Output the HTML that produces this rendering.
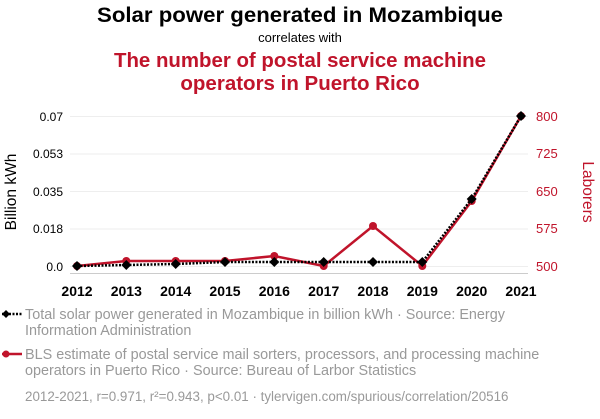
<!DOCTYPE html>
<html><head><meta charset="utf-8"><style>
body{margin:0;background:#fff;width:600px;height:414px;overflow:hidden;font-family:"Liberation Sans",sans-serif}
</style></head><body>
<svg width="600" height="414" xmlns="http://www.w3.org/2000/svg" font-family="Liberation Sans, sans-serif">
<text x="300" y="22" text-anchor="middle" font-size="21.5" font-weight="bold" fill="#000" textLength="406" lengthAdjust="spacingAndGlyphs">Solar power generated in Mozambique</text>
<text x="300" y="42" text-anchor="middle" font-size="13" fill="#000">correlates with</text>
<text x="300" y="67" text-anchor="middle" font-size="20.5" font-weight="bold" fill="#c0142b" textLength="372" lengthAdjust="spacingAndGlyphs">The number of postal service machine</text>
<text x="300" y="90" text-anchor="middle" font-size="20.5" font-weight="bold" fill="#c0142b">operators in Puerto Rico</text>
<g stroke="#eee" stroke-width="1">
<line x1="70" x2="528" y1="116.5" y2="116.5"/><line x1="70" x2="528" y1="154" y2="154"/><line x1="70" x2="528" y1="191.5" y2="191.5"/><line x1="70" x2="528" y1="229" y2="229"/><line x1="70" x2="528" y1="266.5" y2="266.5"/>
</g>
<line x1="70" x2="528" y1="273.5" y2="273.5" stroke="#ccc"/>
<g font-size="12" fill="#000" text-anchor="end">
<text x="63" y="121">0.07</text><text x="63" y="158">0.053</text><text x="63" y="196">0.035</text><text x="63" y="233">0.018</text><text x="63" y="271">0.0</text>
</g>
<g font-size="13" fill="#c0142b" text-anchor="start">
<text x="536" y="121">800</text><text x="536" y="158">725</text><text x="536" y="196">650</text><text x="536" y="233">575</text><text x="536" y="271">500</text>
</g>
<text transform="translate(16,192) rotate(-90)" text-anchor="middle" font-size="15.5" fill="#000">Billion kWh</text>
<text transform="translate(583,192) rotate(90)" text-anchor="middle" font-size="15.5" fill="#c0142b">Laborers</text>
<g font-size="14" font-weight="bold" fill="#000" text-anchor="middle">
<text x="77" y="296">2012</text><text x="126.3" y="296">2013</text><text x="175.7" y="296">2014</text><text x="225" y="296">2015</text><text x="274.3" y="296">2016</text><text x="323.7" y="296">2017</text><text x="373" y="296">2018</text><text x="422.3" y="296">2019</text><text x="471.7" y="296">2020</text><text x="521" y="296">2021</text>
</g>
<polyline fill="none" stroke="#c0142b" stroke-width="2.5" points="77,266 126.3,261 175.7,261 225,261 274.3,256 323.7,266 373,226 422.3,266 471.7,201 521,116"/>
<g fill="#c0142b">
<circle cx="77" cy="266" r="4"/><circle cx="126.3" cy="261" r="4"/><circle cx="175.7" cy="261" r="4"/><circle cx="225" cy="261" r="4"/><circle cx="274.3" cy="256" r="4"/><circle cx="323.7" cy="266" r="4"/><circle cx="373" cy="226" r="4"/><circle cx="422.3" cy="266" r="4"/><circle cx="471.7" cy="201" r="4"/><circle cx="521" cy="116" r="4"/>
</g>
<polyline fill="none" stroke="#000" stroke-width="2.5" stroke-dasharray="2,1.5" points="77,266 126.3,265 175.7,264 225,262 274.3,262 323.7,262 373,262 422.3,262 471.7,199 521,116"/>
<g fill="#000">
<path d="M77,261l5,5l-5,5l-5,-5z"/><path d="M126.3,260l5,5l-5,5l-5,-5z"/><path d="M175.7,259l5,5l-5,5l-5,-5z"/><path d="M225,257l5,5l-5,5l-5,-5z"/><path d="M274.3,257l5,5l-5,5l-5,-5z"/><path d="M323.7,257l5,5l-5,5l-5,-5z"/><path d="M373,257l5,5l-5,5l-5,-5z"/><path d="M422.3,257l5,5l-5,5l-5,-5z"/><path d="M471.7,194l5,5l-5,5l-5,-5z"/><path d="M521,111l5,5l-5,5l-5,-5z"/>
</g>
<line x1="2" x2="22" y1="314" y2="314" stroke="#000" stroke-width="2.5" stroke-dasharray="2,1.5"/>
<path d="M6,310l4,4l-4,4l-4,-4z" fill="#000"/>
<text font-size="14.4" fill="#999"><tspan x="25" y="319">Total solar power generated in Mozambique in billion kWh · Source: Energy</tspan><tspan x="25" y="335">Information Administration</tspan></text>
<line x1="2" x2="22" y1="354" y2="354" stroke="#c0142b" stroke-width="2.5"/>
<circle cx="6" cy="354" r="3.5" fill="#c0142b"/>
<text font-size="14.4" fill="#999"><tspan x="25" y="359">BLS estimate of postal service mail sorters, processors, and processing machine</tspan><tspan x="25" y="375">operators in Puerto Rico · Source: Bureau of Larbor Statistics</tspan></text>
<text x="25" y="401" font-size="13.4" fill="#999">2012-2021, r=0.971, r²=0.943, p&lt;0.01 · tylervigen.com/spurious/correlation/20516</text>
</svg>
</body></html>
